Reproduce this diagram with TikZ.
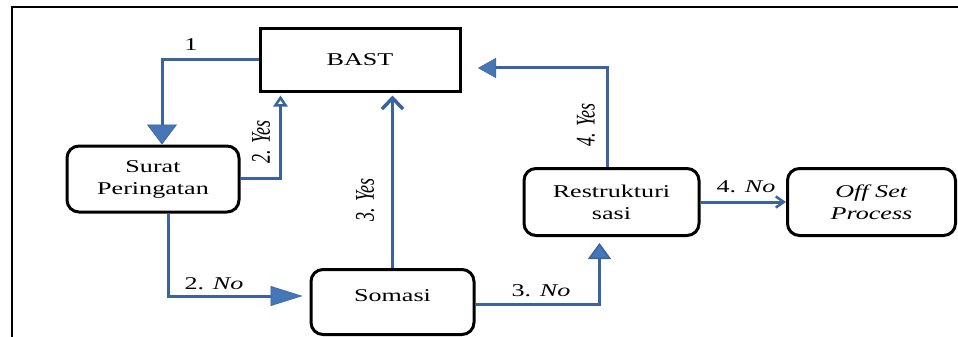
\documentclass[tikz,border=0pt]{standalone}
\usepackage{fontspec}
\setmainfont{Liberation Serif}
\usetikzlibrary{arrows.meta,calc}
\definecolor{connblue}{HTML}{3A64A0}
\definecolor{tipfill}{HTML}{4676B6}
\newcommand{\hs}[1]{\scalebox{1.45}[1]{#1}}
\newcommand{\vs}[1]{\scalebox{1}[1.5]{#1}}
\tikzset{
  txt/.style={font=\fontsize{18}{22}\selectfont},
  sqbox/.style={txt, draw=black, line width=3pt, inner sep=0pt, align=center},
  rbox/.style={txt, draw=black, line width=3pt, rounded corners=12pt, inner sep=0pt, align=center},
  conn/.style={draw=connblue, line width=3pt},
  lbl/.style={txt, inner sep=0pt},
  bigtip/.style={-{Triangle[width=30pt,length=20pt,fill=tipfill,line width=0.5pt]}},
}
\begin{document}
\begin{tikzpicture}[x=1pt,y=-1pt]
\useasboundingbox (0,0) rectangle (958,337);
% frame
\draw[line width=2pt] (12,337) -- (12,7) -- (958,7);

% boxes
\node[sqbox, minimum width=200pt, minimum height=62pt] (bast) at (360,60) {\hs{BAST}};
\node[rbox, minimum width=172pt, minimum height=66pt] (surat) at (153,179) {\hs{Surat}\\\hs{Peringatan}};
\node[rbox, minimum width=163pt, minimum height=65pt, text height=12pt, text depth=14pt] (somasi) at (392.5,302) {\hs{Somasi}};
\node[rbox, minimum width=175pt, minimum height=67pt] (restruk) at (611.5,202) {\hs{Restrukturi}\\\hs{sasi}};
\node[rbox, minimum width=168pt, minimum height=67pt] (offset) at (871.5,202) {\hs{\textit{Off Set}}\\\hs{\textit{Process}}};

% helper coordinates
\coordinate (yes4end) at (478,68);

% connectors
\draw[conn, bigtip] (bast.west) -| ($(surat.north)+(9,0)$);
\draw[conn, -{Triangle[open,width=14pt,length=11pt,fill=white,line width=2.5pt]}, shorten >=3pt]
  ($(surat.east)+(0,-1)$) -| ($(bast.south west)+(22,0)$);
\draw[conn, -{Triangle[width=20pt,length=32pt,fill=tipfill,line width=0.5pt]}, shorten >=7pt]
  ($(surat.south)+(15,0)$) |- ($(somasi.west)+(0,-6)$);
\draw[conn, -{Straight Barb[width=21pt,length=11pt,line width=3.5pt]}, shorten >=3pt]
  (somasi.north) -- (somasi.north |- bast.south);
\draw[conn, -{Triangle[width=23pt,length=16pt,fill=tipfill,line width=1.5pt]}, shorten >=6pt]
  ($(somasi.east)+(0,2)$) -| ($(restruk.south)+(-12,0)$);
\draw[conn, -{Triangle[width=20pt,length=18pt,fill=tipfill,line width=0.5pt]}]
  ($(restruk.north)+(-4,0)$) |- (yes4end);
\draw[conn, -{Straight Barb[width=11pt,length=8pt,line width=2.5pt]}]
  (restruk.east) -- (offset.west);

% labels
\node[lbl] (l1) at (191,45) {\hs{1}};
\node[lbl, rotate=90] (l2y) at (261,142) {\vs{\textit{2. Yes}}};
\node[lbl] (l2n) at (214,284) {\hs{2. \textit{No}}};
\node[lbl, rotate=90] (l3y) at (365,200) {\vs{\textit{3. Yes}}};
\node[lbl] (l3n) at (541,291) {\hs{3. \textit{No}}};
\node[lbl, rotate=90] (l4y) at (586,125) {\vs{\textit{4. Yes}}};
\node[lbl] (l4n) at (746,187) {\hs{4. \textit{No}}};
\end{tikzpicture}
\end{document}
